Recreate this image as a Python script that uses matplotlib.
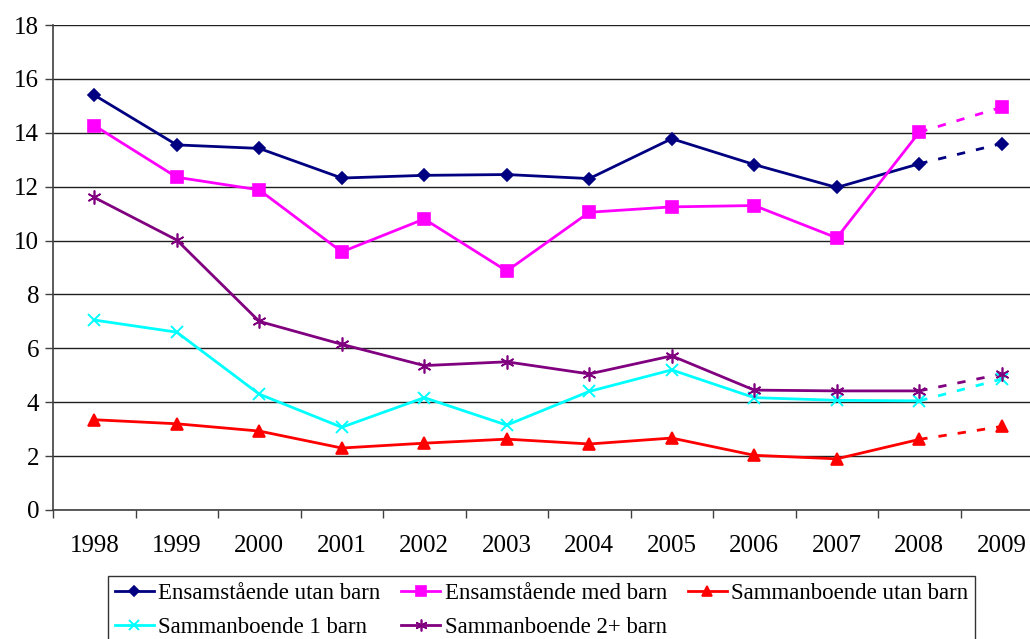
import matplotlib
matplotlib.use("Agg")
import matplotlib.pyplot as plt
from matplotlib.lines import Line2D
import numpy as np

plt.rcParams["font.family"] = ["Liberation Serif", "DejaVu Serif"]

# ── Data ─────────────────────────────────────────────────────────────────────
years = ["1998", "1999", "2000", "2001", "2002", "2003",
         "2004", "2005", "2006", "2007", "2008", "2009"]

ens_utan = [15.4, 13.55, 13.42, 12.32, 12.42, 12.45, 12.3, 13.78, 12.82, 11.97, 12.85, 13.6]
ens_med = [14.27, 12.35, 11.88, 9.58, 10.8, 8.87, 11.05, 11.25, 11.3, 10.1, 14.02, 14.95]
sam_utan = [3.35, 3.2, 2.93, 2.3, 2.48, 2.63, 2.45, 2.67, 2.03, 1.9, 2.62, 3.1]
sam_1 = [7.05, 6.6, 4.3, 3.07, 4.17, 3.15, 4.4, 5.2, 4.17, 4.07, 4.05, 4.86]
sam_2 = [11.6, 10.02, 7.0, 6.15, 5.36, 5.5, 5.05, 5.72, 4.45, 4.42, 4.42, 5.05]

series = [
    ("Ensamstående utan barn", ens_utan, "#000080", "D", 6.5, 1.2),
    ("Ensamstående med barn", ens_med, "#FF00FF", "s", 8.5, 1.2),
    ("Sammanboende utan barn", sam_utan, "#FF0000", "^", 8.5, 1.2),
    ("Sammanboende 1 barn", sam_1, "#00FFFF", "x", 9, 1.4),
    ("Sammanboende 2+ barn", sam_2, "#800080", (6, 2, 0), 10, 1.2),
]

# ── Figure ───────────────────────────────────────────────────────────────────
fig = plt.figure(figsize=(10.3, 6.39), dpi=100)
ax = fig.add_axes([53 / 1030, 1 - 510 / 639, (1043 - 53) / 1030, (510 - 25) / 639])

x = np.arange(len(years))
handles = []
for name, vals, col, mk, ms, mew in series:
    ax.plot(x[:11], vals[:11], color=col, lw=2.0, marker=mk, ms=ms,
            mec=col, mfc=col, mew=mew, zorder=3)
    ax.plot(x[10:], vals[10:], color=col, lw=2.0, linestyle=(0, (3, 4)),
            zorder=2)
    ax.plot(x[11:], vals[11:], color=col, lw=0, marker=mk, ms=ms,
            mec=col, mfc=col, mew=mew, zorder=3)
    handles.append(Line2D([], [], color=col, lw=2.0, marker=mk, ms=ms - 1.5,
                          mec=col, mfc=col, mew=mew, label=name))

ax.set_xlim(-0.5, 11.5)
ax.set_ylim(0, 18)
ax.set_yticks(np.arange(0, 19, 2))
ax.set_xticks(x)
ax.set_xticklabels(years)
ax.set_xticks(np.arange(-0.5, 12, 1), minor=True)
ax.tick_params(axis="x", which="major", length=0, pad=18, labelsize=18)
ax.tick_params(axis="x", which="minor", length=6, width=1, color="#404040")
ax.tick_params(axis="y", length=6, width=1, color="#404040", labelsize=18, pad=4)

ax.yaxis.grid(True, color="#202020", lw=1)
ax.set_axisbelow(True)
for s in ["top", "right"]:
    ax.spines[s].set_visible(False)
for s in ["left", "bottom"]:
    ax.spines[s].set_color("#404040")
    ax.spines[s].set_linewidth(1.2)

# legend row-wise order: a, d, b, e, c
order = [0, 3, 1, 4, 2]
leg = fig.legend([handles[i] for i in order], [handles[i].get_label() for i in order],
                 ncol=3, loc="upper left", bbox_to_anchor=(108 / 1030, 1 - 576 / 639),
                 frameon=True, fancybox=False, edgecolor="black", fontsize=16.5,
                 handlelength=1.7, handletextpad=0.2, columnspacing=0.9,
                 labelspacing=0.55, borderpad=0.3, borderaxespad=0)
leg.get_frame().set_linewidth(1)

fig.savefig("out.png", dpi=100, facecolor="white")
